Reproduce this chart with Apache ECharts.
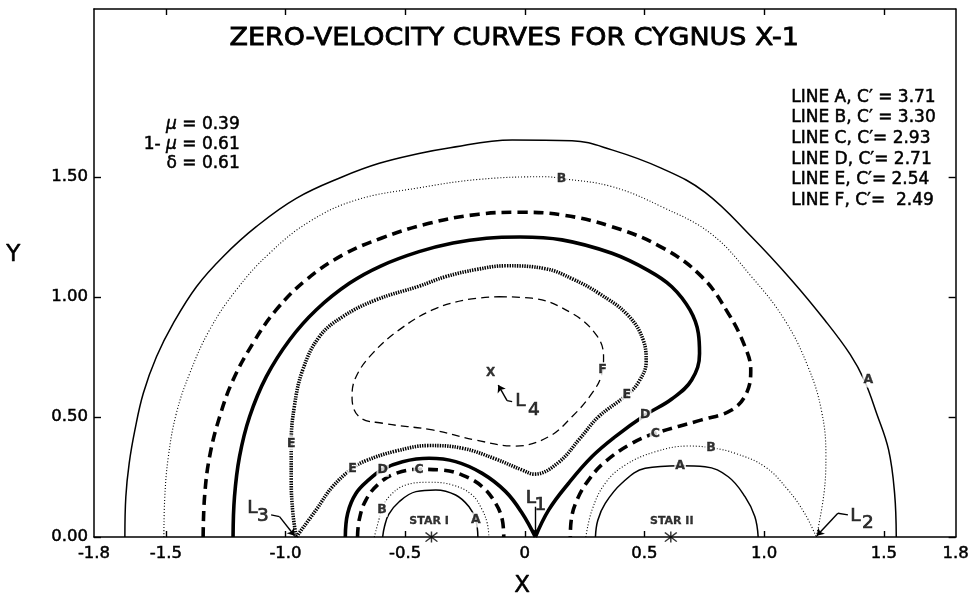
<!DOCTYPE html>
<html>
<head>
<meta charset="utf-8">
<script src="https://cdn.jsdelivr.net/npm/echarts@6/dist/echarts.min.js"></script>
<style>html,body{margin:0;padding:0;background:#fff}#c{width:972px;height:597px}</style>
</head>
<body>
<div id="c"></div>
<script>
// ---------- axis ticks / labels ----------
const xLabelValues = [-1.8, -1.5, -1.0, -0.5, 0, 0.5, 1.0, 1.5, 1.8];
const xLabelTexts  = ['-1.8', '-1.5', '-1.0', '-0.5', '0', '0.5', '1.0', '1.5', '1.8'];
const xTickValues  = [-1.5, -1.0, -0.5, 0, 0.5, 1.0, 1.5];
const yTickValues  = [0, 0.5, 1.0, 1.5];
const yLabelTexts  = ['0.00', '0.50', '1.00', '1.50'];

// ---------- zero-velocity curves (x, y) ----------
const lineA_outer = [[-1.671,0],[-1.667,0.168],[-1.653,0.307],[-1.629,0.446],[-1.594,0.599],[-1.539,0.751],[-1.469,0.890],[-1.372,1.043],[-1.261,1.168],[-1.122,1.293],[-0.955,1.411],[-0.761,1.501],[-0.608,1.557],[-0.442,1.598],[-0.330,1.619],[-0.053,1.654],[0.197,1.651],[0.364,1.613],[0.572,1.536],[0.753,1.436],[0.947,1.251],[1.114,1.071],[1.253,0.904],[1.360,0.760],[1.418,0.654],[1.470,0.515],[1.520,0.363],[1.545,0.182],[1.552,0]];
const lineA_star1 = [[-0.594,0],[-0.586,0.045],[-0.568,0.095],[-0.525,0.147],[-0.455,0.189],[-0.372,0.196],[-0.289,0.175],[-0.233,0.126],[-0.205,0.071],[-0.196,0]];
const lineA_star2 = [[0.295,0],[0.305,0.070],[0.336,0.140],[0.405,0.224],[0.503,0.286],[0.649,0.297],[0.753,0.293],[0.850,0.251],[0.920,0.168],[0.961,0.085],[0.975,0]];
const lineB_outer = [[-1.508,0],[-1.505,0.150],[-1.490,0.330],[-1.456,0.515],[-1.400,0.682],[-1.317,0.863],[-1.206,1.029],[-1.067,1.182],[-0.900,1.314],[-0.705,1.404],[-0.442,1.455],[-0.192,1.490],[0.086,1.501],[0.153,1.494],[0.364,1.460],[0.572,1.376],[0.780,1.262],[0.947,1.085],[1.086,0.904],[1.183,0.710],[1.239,0.529],[1.258,0.340],[1.250,0.182],[1.218,0]];
const lineB_star1 = [[-0.629,0],[-0.610,0.071],[-0.597,0.115],[-0.567,0.168],[-0.497,0.217],[-0.400,0.228],[-0.303,0.217],[-0.220,0.175],[-0.178,0.113],[-0.157,0.057],[-0.150,0]];
const lineB_star2 = [[0.255,0],[0.281,0.113],[0.336,0.224],[0.420,0.300],[0.545,0.355],[0.683,0.379],[0.778,0.372],[0.878,0.349],[1.003,0.293],[1.100,0.196],[1.169,0.099],[1.218,0]];
const lineC_outer = [[-1.344,0],[-1.338,0.168],[-1.317,0.335],[-1.275,0.501],[-1.219,0.654],[-1.136,0.807],[-1.039,0.946],[-0.914,1.071],[-0.761,1.175],[-0.600,1.245],[-0.400,1.307],[-0.192,1.345],[-0.025,1.353],[0.155,1.342],[0.364,1.293],[0.572,1.207],[0.739,1.085],[0.850,0.932],[0.920,0.793],[0.944,0.696],[0.926,0.599],[0.864,0.529],[0.739,0.488],[0.545,0.432],[0.447,0.390],[0.336,0.314],[0.267,0.238],[0.218,0.154],[0.194,0.071],[0.190,0]];
const lineC_star1 = [[-0.699,0],[-0.692,0.071],[-0.664,0.154],[-0.608,0.224],[-0.539,0.265],[-0.442,0.282],[-0.345,0.279],[-0.261,0.258],[-0.178,0.210],[-0.122,0.140],[-0.094,0.071],[-0.088,0]];
const lineD_outer = [[-1.219,0],[-1.213,0.168],[-1.192,0.335],[-1.150,0.501],[-1.080,0.668],[-0.983,0.821],[-0.872,0.946],[-0.733,1.057],[-0.600,1.130],[-0.442,1.189],[-0.300,1.225],[-0.160,1.245],[-0.020,1.250],[0.155,1.238],[0.364,1.182],[0.517,1.110],[0.614,1.043],[0.690,0.946],[0.725,0.849],[0.730,0.765],[0.697,0.654],[0.614,0.575],[0.503,0.508],[0.378,0.418],[0.281,0.335],[0.183,0.224],[0.100,0.113],[0.044,0]];
const lineD_star1 = [[-0.750,0],[-0.740,0.099],[-0.705,0.182],[-0.650,0.240],[-0.594,0.282],[-0.511,0.314],[-0.400,0.328],[-0.289,0.314],[-0.178,0.265],[-0.080,0.189],[-0.011,0.099],[0.044,0]];
const lineE = [[-0.955,0],[-0.969,0.099],[-0.976,0.238],[-0.976,0.390],[-0.963,0.543],[-0.928,0.696],[-0.858,0.835],[-0.761,0.918],[-0.622,0.988],[-0.442,1.045],[-0.330,1.085],[-0.200,1.115],[-0.080,1.130],[0.086,1.118],[0.200,1.075],[0.310,1.015],[0.430,0.925],[0.495,0.820],[0.507,0.730],[0.475,0.645],[0.426,0.592],[0.308,0.501],[0.230,0.410],[0.140,0.310],[0.040,0.262],[-0.011,0.279],[-0.122,0.325],[-0.261,0.370],[-0.400,0.381],[-0.539,0.358],[-0.664,0.318],[-0.720,0.286],[-0.803,0.210],[-0.872,0.113],[-0.955,0]];
const lineF = [[-0.108,1.001],[0.030,0.995],[0.197,0.932],[0.300,0.840],[0.329,0.751],[0.322,0.680],[0.281,0.599],[0.197,0.501],[0.100,0.418],[-0.039,0.379],[-0.205,0.404],[-0.386,0.446],[-0.594,0.474],[-0.692,0.501],[-0.722,0.585],[-0.705,0.668],[-0.636,0.765],[-0.525,0.863],[-0.386,0.946],[-0.247,0.988],[-0.108,1.001]];

// ---------- labels on curves ----------
const curveLetters = [[1.435,0.654,'A'],[0.153,1.494,'B'],[0.649,0.296,'A'],[0.778,0.372,'B'],[0.545,0.432,'C'],[0.503,0.508,'D'],[0.426,0.592,'E'],[0.325,0.696,'F'],[-0.976,0.390,'E'],[-0.720,0.286,'E'],[-0.594,0.282,'D'],[-0.442,0.282,'C'],[-0.597,0.115,'B'],[-0.205,0.071,'A']];
const stars = [[-0.39,0],[0.61,0]];
const starNames = [[-0.40,0.064,'STAR I'],[0.614,0.064,'STAR II']];
const l4Point = [[-0.143,0.682]];
const lagrangeL = [[0.025,0.163,'L'],[1.381,0.088,'L'],[-1.138,0.119,'L'],[-0.018,0.564,'L']];
const lagrangeSub = [[0.065,0.133,'1'],[1.433,0.056,'2'],[-1.094,0.085,'3'],[0.038,0.529,'4']];
const leaderLines = [[[1.350,0.092],[1.308,0.099]],[[-1.060,0.092],[-1.025,0.085]],[[-0.053,0.564],[-0.074,0.568]]];
const leaderArrows = [[[0.042,0.126],[0.042,0.006]],[[1.308,0.099],[1.220,0.005]],[[-1.025,0.085],[-0.962,0.005]],[[-0.074,0.568],[-0.111,0.633]]];

// ---------- text ----------
const titleText = 'ZERO-VELOCITY CURVES FOR CYGNUS X-1';
const legendLines = ['LINE A, C\u2032 = 3.71','LINE B, C\u2032 = 3.30','LINE C, C\u2032= 2.93','LINE D, C\u2032= 2.71','LINE E, C\u2032= 2.54','LINE F, C\u2032=  2.49'];
const paramLines = ['{i|\u03bc} = 0.39','1- {i|\u03bc} = 0.61','\u03b4 = 0.61'];

const FONT = '"DejaVu Sans", "Liberation Sans", Arial, sans-serif';
const chart = echarts.init(document.getElementById('c'), null, {renderer: 'canvas'});

function curve(data, width, type) {
  return {type: 'line', data: data, showSymbol: false, symbol: 'none', smooth: 0.4,
    lineStyle: {color: '#000', width: width, type: type, cap: 'butt'}, silent: true, z: 2, animation: false, clip: false};
}
const series = [
  curve(lineA_outer, 1.5, 'solid'), curve(lineA_star1, 1.5, 'solid'), curve(lineA_star2, 1.5, 'solid'),
  curve(lineB_outer, 1.1, [1, 2]), curve(lineB_star1, 1.1, [1, 2]), curve(lineB_star2, 1.1, [1, 2]),
  curve(lineC_outer, 3.6, [10, 6]), curve(lineC_star1, 3.6, [10, 6]),
  curve(lineD_outer, 3.6, 'solid'), curve(lineD_star1, 3.6, 'solid'),
  curve(lineE, 3.6, [1.4, 1.1]),
  curve(lineF, 1.3, [8, 5])
];
leaderLines.forEach(function (seg) {
  series.push({type: 'line', data: seg, showSymbol: false, symbol: 'none', lineStyle: {color: '#000', width: 1.4}, silent: true, z: 3, animation: false});
});
series.push({type: 'line', data: [], silent: true, animation: false,
  markLine: {symbol: ['none', 'arrow'], symbolSize: 7, silent: true, animation: false, label: {show: false},
    lineStyle: {color: '#000', width: 1.4, type: 'solid'},
    data: leaderArrows.map(function (s) { return [{coord: s[0]}, {coord: s[1]}]; })}});
function textScatter(data, size, weight, fixed, border) {
  return {type: 'scatter', data: data, symbolSize: 1, itemStyle: {color: 'rgba(0,0,0,0)'}, silent: true, z: 5, animation: false,
    label: {show: true, position: 'inside', formatter: fixed ? fixed : function (p) { return p.value[2]; }, color: '#000',
      fontFamily: FONT, fontWeight: weight, fontSize: size, textBorderColor: '#000', textBorderWidth: border || 0}};
}
const letterSeries = textScatter(curveLetters, 12.5, 'bold', null, 0.3);
letterSeries.label.backgroundColor = '#fff';
letterSeries.label.padding = [1, 1];
series.push(letterSeries);
series.push({type: 'scatter', data: stars, symbol: 'path://M9,0L11,0L11,20L9,20Z M1,2.5L2.5,1L19,17.5L17.5,19Z M17.5,1L19,2.5L2.5,19L1,17.5Z', symbolSize: [13, 11], itemStyle: {color: '#000'}, silent: true, z: 6, animation: false, clip: false});
series.push(textScatter(starNames, 11, 'bold', null, 0.3));
series.push(textScatter(l4Point, 12, 'bold', 'X', 0.3));
series.push(textScatter(lagrangeL, 18.5, 'normal', null, 0.7));
series.push(textScatter(lagrangeSub, 18.5, 'normal', null, 0.7));

const axisLineStyle = {color: '#000', width: 1.5};
const tickStyle = {color: '#000', width: 1.4};
function fmt(values, texts) {
  return function (v) { const i = values.findIndex(function (t) { return Math.abs(t - v) < 1e-6; }); return i >= 0 ? texts[i] : ''; };
}
const labelCommon = {color: '#000', fontFamily: FONT, fontSize: 16.5, textBorderColor: '#000', textBorderWidth: 0.5};
const option = {
  backgroundColor: '#fff',
  animation: false,
  grid: {left: 94, right: 14, top: 9, bottom: 60},
  xAxis: [{
    type: 'value', min: -1.8, max: 1.8, position: 'bottom',
    axisLine: {show: true, onZero: false, lineStyle: axisLineStyle},
    axisTick: {show: true, inside: true, length: 6, customValues: xTickValues, lineStyle: tickStyle},
    axisLabel: Object.assign({show: true, customValues: xLabelValues, margin: 8, formatter: fmt(xLabelValues, xLabelTexts)}, labelCommon),
    splitLine: {show: false}
  }, {
    type: 'value', min: -1.8, max: 1.8, position: 'top',
    axisLine: {show: true, onZero: false, lineStyle: axisLineStyle},
    axisTick: {show: true, inside: true, length: 6, customValues: xTickValues, lineStyle: tickStyle},
    axisLabel: {show: false}, splitLine: {show: false}
  }],
  yAxis: [{
    type: 'value', min: 0, max: 2.2, position: 'left',
    axisLine: {show: true, onZero: false, lineStyle: axisLineStyle},
    axisTick: {show: true, inside: true, length: 7, customValues: yTickValues, lineStyle: tickStyle},
    axisLabel: Object.assign({show: true, customValues: yTickValues, margin: 6, formatter: fmt(yTickValues, yLabelTexts)}, labelCommon),
    splitLine: {show: false}
  }, {
    type: 'value', min: 0, max: 2.2, position: 'right',
    axisLine: {show: true, onZero: false, lineStyle: axisLineStyle},
    axisTick: {show: true, inside: true, length: 7, customValues: yTickValues, lineStyle: tickStyle},
    axisLabel: {show: false}, splitLine: {show: false}
  }],
  graphic: [
    {type: 'text', left: 229, top: 26, style: {text: titleText, fill: '#000', stroke: '#000', lineWidth: 0.8, font: '24.5px ' + FONT}, scaleX: 1.1},
    {type: 'text', left: 791, top: 87, style: {text: legendLines.join('\n'), fill: '#000', stroke: '#000', lineWidth: 0.5, font: '17px ' + FONT, lineHeight: 20.6}},
    {type: 'text', right: 732, top: 116, style: {text: paramLines[0], fill: '#000', stroke: '#000', lineWidth: 0.5, font: '17px ' + FONT,
      rich: {i: {fontStyle: 'italic', fontSize: 17, fontFamily: FONT}}}},
    {type: 'text', right: 732, top: 135.5, style: {text: paramLines[1], fill: '#000', stroke: '#000', lineWidth: 0.5, font: '17px ' + FONT,
      rich: {i: {fontStyle: 'italic', fontSize: 17, fontFamily: FONT}}}},
    {type: 'text', right: 732, top: 155, style: {text: paramLines[2], fill: '#000', stroke: '#000', lineWidth: 0.5, font: '17px ' + FONT}},
    {type: 'text', left: 6, top: 243, style: {text: 'Y', fill: '#000', stroke: '#000', lineWidth: 0.5, font: '23px ' + FONT}},
    {type: 'text', left: 514, top: 574, style: {text: 'X', fill: '#000', stroke: '#000', lineWidth: 0.5, font: '23px ' + FONT}}
  ],
  series: series
};
chart.setOption(option);
</script>
</body>
</html>
